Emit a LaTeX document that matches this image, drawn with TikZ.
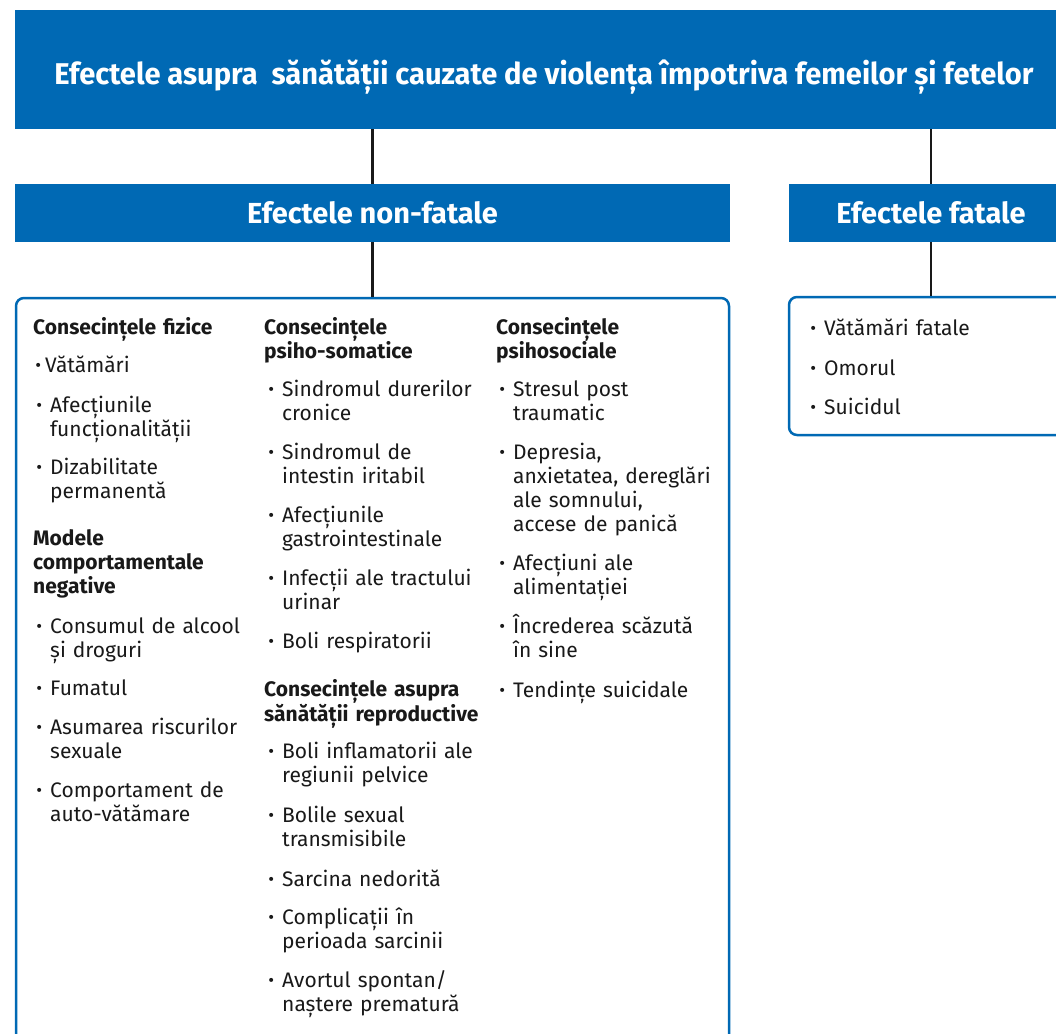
\documentclass[tikz,border=0pt]{standalone}
\usepackage{fontspec}
\setmainfont{Fira Sans}
\newfontfamily\titlufont[FakeStretch=0.97]{Fira Sans}
\usepackage{xcolor}
\definecolor{albastru}{RGB}{0, 105, 180}
\definecolor{negru}{RGB}{25, 25, 25}
\usepackage{tikz}
\usetikzlibrary{calc,positioning}
\tikzstyle{banda}=[rectangle, fill=albastru, text=white,
                   inner sep=0pt, outer sep=0pt]
\tikzstyle{cutie}=[rectangle, draw=albastru, line width=2.5pt,
                   rounded corners=8pt, fill=white, inner sep=0pt]
\tikzstyle{legatura}=[draw=negru, line width=2.6pt]
\tikzstyle{titlucol}=[anchor=base west, inner sep=0pt, align=left,
                   text width=230pt, text=negru,
                   font=\bfseries\fontsize{21}{24}\selectfont]
\tikzstyle{punct}=[anchor=base west, inner sep=0pt, align=left,
                   text width=230pt, text=negru,
                   font=\fontsize{21}{24}\selectfont]
\newcommand{\glont}[1][8pt]{\makebox[0pt][r]{\raisebox{1pt}{\scalebox{0.85}{•}}\hspace{#1}}}

\begin{document}
\begin{tikzpicture}[x=1pt,y=-1pt]
\useasboundingbox (0,0) rectangle (1056,1033);

    \node (titlu) [banda, minimum width=1058pt, minimum height=119pt] at (544,69.5) {};
    \node (titlutext) [text=white, inner sep=0pt] at ([yshift=-8pt]titlu.center)
        {\titlufont\bfseries\fontsize{30}{34}\selectfont Efectele asupra~ sănătății cauzate de violența împotriva femeilor și fetelor};
    \node (nf) [banda, minimum width=715pt, minimum height=58pt,
        font=\bfseries\fontsize{29}{32}\selectfont] at (372.5,213) {Efectele non-fatale};
    \node (fa) [banda, minimum width=284pt, minimum height=58pt,
        font=\bfseries\fontsize{29}{32}\selectfont] at (931,213) {Efectele fatale};

    \node (cnf) [cutie, minimum width=713pt, minimum height=760pt] at (372.5,678) {};
    \node (cfa) [cutie, minimum width=284pt, minimum height=138pt] at (931,366) {};

    \draw [legatura] (titlu.south -| nf.north) -- (nf.north);
    \draw [legatura] (titlu.south -| fa.north) -- (fa.north);
    \draw [legatura] (nf.south) -- (cnf.north);
    \draw [legatura] (fa.south) -- (cfa.north);

    % coloana 1
    \node (h1) [titlucol] at (33,334) {Consecințele fizice};
    \node (a0) [punct] at (45,372) {\glont[4pt]Vătămări};
    \foreach \y/\txt [count=\i] in {412/{Afecțiunile\\funcționalității},
        474/{Dizabilitate\\permanentă}}
        \node (a\i) [punct] at (50,\y) {\glont\txt};
    \node (h2) [titlucol] at (33,545) {Modele\\comportamentale\\negative};
    \foreach \y/\txt [count=\i] in {633/{Consumul de alcool\\și droguri},
        695/{Fumatul}, 734/{Asumarea riscurilor\\sexuale},
        797/{Comportament de\\auto-vătămare}}
        \node (m\i) [punct] at (50,\y) {\glont\txt};

    % coloana 2
    \node (h3) [titlucol] at (264,334) {Consecințele\\psiho-somatice};
    \foreach \y/\txt [count=\i] in {396/{Sindromul durerilor\\cronice},
        459/{Sindromul de\\intestin iritabil}, 522/{Afecțiunile\\gastrointestinale},
        585/{Infecții ale tractului\\urinar}, 648/{Boli respiratorii}}
        \node (b\i) [punct] at (282,\y) {\glont\txt};
    \node (h4) [titlucol] at (264,696) {Consecințele asupra\\sănătății reproductive};
    \foreach \y/\txt [count=\i] in {758/{Boli inflamatorii ale\\regiunii pelvice},
        822/{Bolile sexual\\transmisibile}, 886/{Sarcina nedorită},
        924/{Complicații în\\perioada sarcinii}, 987/{Avortul spontan/\\naștere prematură}}
        \node (r\i) [punct] at (282,\y) {\glont\txt};

    % coloana 3
    \node (h5) [titlucol] at (496,334) {Consecințele\\psihosociale};
    \foreach \y/\txt [count=\i] in {396/{Stresul post\\traumatic},
        459/{Depresia,\\anxietatea, dereglări\\ale somnului,\\accese de panică},
        570/{Afecțiuni ale\\alimentației}, 633/{Încrederea scăzută\\în sine},
        697/{Tendințe suicidale}}
        \node (c\i) [punct] at (513,\y) {\glont\txt};

    % efecte fatale
    \foreach \y/\txt [count=\i] in {335/{Vătămări fatale}, 375/{Omorul}, 414/{Suicidul}}
        \node (f\i) [punct] at (824,\y) {\glont\txt};

\end{tikzpicture}
\end{document}
